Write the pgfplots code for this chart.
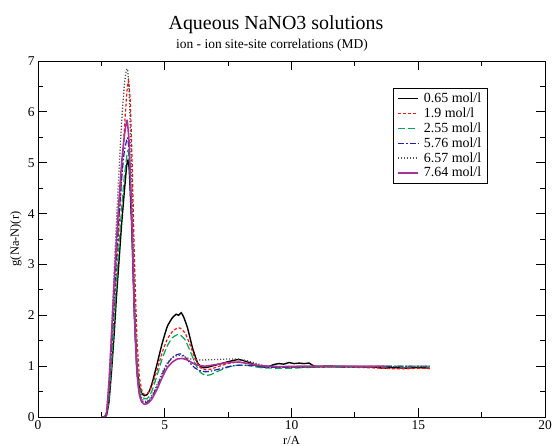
\documentclass[border=0pt]{standalone}
\usepackage{fontspec}
\setmainfont{Liberation Serif}
\usepackage{pgfplots}
\pgfplotsset{compat=1.18}
\definecolor{cred}{RGB}{240,20,20}
\definecolor{cgreen}{RGB}{0,165,85}
\definecolor{cblue}{RGB}{30,30,170}
\definecolor{cgray}{RGB}{80,80,80}
\definecolor{cmag}{RGB}{170,50,150}
\begin{document}
\begin{tikzpicture}
\begin{axis}[name=ax,
  scale only axis, width=507bp, height=356bp,
  xmin=0, xmax=20, ymin=0, ymax=7,
  xtick={0,5,...,20}, ytick={0,1,...,7},
  minor x tick num=1, minor y tick num=1,
  xtick pos=both, ytick pos=both,
  tick align=inside, major tick length=9bp, minor tick length=5bp,
  tick style={black, line width=0.8bp},
  axis line style={black, line width=0.8bp},
  ticklabel style={font=\fontsize{13.5}{15}\selectfont},
  /pgf/number format/assume math mode=true,
  xlabel={r/A}, ylabel={g(Na-N)(r)},
  label style={font=\fontsize{12.5}{14}\selectfont},
  xlabel style={at={(axis description cs:0.5,0)}, anchor=north, inner sep=0pt, yshift=-19bp},
  ylabel style={at={(axis description cs:-0.0434,0.5)}, anchor=center, inner sep=0pt},
  legend style={at={(rel axis cs:0.700,0.924)}, anchor=north west, draw=black,
    line width=0.8bp, font=\fontsize{14}{16}\selectfont, inner xsep=4bp, inner ysep=2.5bp,
    column sep=3bp, row sep=-0.3bp},
  legend cell align=left,
  legend image code/.code={\draw[#1] (0bp,0bp) -- (20bp,0bp);},
  every axis plot/.append style={smooth, tension=0.3},
]
\addplot[black, line width=1.4bp] coordinates {
(2.5,0)(2.6,0)(2.7,0.03)(2.8,0.3)(2.9,0.9)(3.0,1.6)(3.1,2.4)(3.2,3.1)(3.3,3.8)(3.4,4.4)(3.5,4.95)(3.55,5.05)(3.6,4.85)(3.7,3.7)(3.8,2.1)(3.9,1.0)(4.0,0.6)(4.1,0.46)(4.2,0.42)(4.3,0.44)(4.4,0.52)(4.5,0.66)(4.7,1.05)(4.9,1.45)(5.1,1.78)(5.3,1.95)(5.45,2.02)(5.55,2.0)(5.65,2.05)(5.75,1.96)(5.9,1.75)(6.1,1.35)(6.3,1.06)(6.5,0.97)(6.7,0.98)(7.0,1.02)(7.3,1.06)(7.6,1.1)(7.9,1.13)(8.1,1.11)(8.4,1.06)(8.7,1.0)(9.0,0.98)(9.3,1.03)(9.5,1.05)(9.7,1.04)(9.9,1.07)(10.1,1.05)(10.3,1.06)(10.5,1.05)(10.7,1.06)(10.9,1.0)(11.5,1.0)(12.5,0.99)(13.3,0.98)(13.6,0.96)(14.0,0.97)(14.5,0.96)(15.0,0.97)(15.45,0.96)
};
\addplot[cred, line width=1.2bp, dash pattern=on 3bp off 2bp] coordinates {
(2.5,0)(2.6,0)(2.7,0.04)(2.8,0.4)(2.9,1.1)(3.0,2.0)(3.1,2.9)(3.2,3.8)(3.3,4.7)(3.4,5.6)(3.5,6.35)(3.57,6.62)(3.64,6.2)(3.72,4.9)(3.8,3.2)(3.9,1.6)(4.0,0.8)(4.1,0.52)(4.2,0.44)(4.3,0.45)(4.4,0.52)(4.5,0.62)(4.7,0.93)(4.9,1.27)(5.1,1.53)(5.3,1.68)(5.5,1.75)(5.6,1.75)(5.8,1.65)(6.0,1.42)(6.2,1.14)(6.4,0.97)(6.6,0.93)(6.8,0.94)(7.1,0.99)(7.5,1.05)(7.9,1.08)(8.3,1.05)(8.8,1.0)(9.3,0.98)(10.0,0.98)(11.0,0.98)(12.0,0.98)(13.0,0.97)(14.0,0.95)(14.6,0.95)(15.0,0.96)(15.45,0.95)
};
\addplot[cgreen, line width=1.2bp, dash pattern=on 7bp off 3bp] coordinates {
(2.5,0)(2.6,0)(2.7,0.03)(2.8,0.38)(2.9,1.05)(3.0,1.85)(3.1,2.65)(3.2,3.4)(3.3,4.1)(3.4,4.7)(3.5,5.12)(3.55,5.24)(3.6,5.05)(3.7,3.9)(3.8,2.3)(3.9,1.1)(4.0,0.6)(4.1,0.42)(4.2,0.36)(4.3,0.36)(4.4,0.42)(4.5,0.52)(4.7,0.82)(4.9,1.15)(5.1,1.4)(5.3,1.56)(5.5,1.62)(5.6,1.62)(5.8,1.52)(6.0,1.3)(6.2,1.05)(6.4,0.88)(6.6,0.82)(6.8,0.83)(7.1,0.9)(7.5,0.98)(7.9,1.02)(8.3,1.01)(8.8,0.97)(9.3,0.96)(10.0,0.96)(11.0,0.98)(12.0,0.98)(13.0,0.99)(14.0,1.0)(15.0,1.0)(15.45,1.0)
};
\addplot[cblue, line width=1.2bp, dash pattern=on 6bp off 2bp on 1.5bp off 2bp] coordinates {
(2.5,0)(2.6,0)(2.7,0.05)(2.8,0.55)(2.9,1.4)(3.0,2.3)(3.1,3.2)(3.2,4.0)(3.3,4.7)(3.4,5.2)(3.5,5.45)(3.54,5.49)(3.6,5.15)(3.7,3.8)(3.8,2.0)(3.9,0.9)(4.0,0.46)(4.1,0.32)(4.2,0.28)(4.3,0.29)(4.4,0.33)(4.5,0.4)(4.7,0.6)(4.9,0.84)(5.1,1.04)(5.3,1.17)(5.5,1.23)(5.65,1.24)(5.8,1.18)(6.0,1.06)(6.2,0.96)(6.4,0.91)(6.6,0.89)(6.8,0.9)(7.2,0.95)(7.6,1.0)(8.0,1.02)(8.5,1.01)(9.0,0.98)(10.0,0.98)(11.0,0.99)(12.0,0.99)(13.0,0.99)(14.0,1.0)(15.0,1.0)(15.45,1.0)
};
\addplot[cgray, line width=1.3bp, dash pattern=on 1.2bp off 1.8bp] coordinates {
(2.5,0)(2.6,0)(2.7,0.08)(2.8,0.7)(2.9,1.7)(3.0,2.8)(3.1,3.9)(3.2,4.9)(3.3,5.8)(3.4,6.5)(3.48,6.8)(3.53,6.84)(3.6,6.35)(3.7,4.7)(3.8,2.6)(3.9,1.15)(4.0,0.55)(4.1,0.36)(4.2,0.31)(4.3,0.31)(4.4,0.36)(4.5,0.43)(4.7,0.64)(4.9,0.87)(5.1,1.06)(5.3,1.17)(5.5,1.21)(5.7,1.2)(5.9,1.16)(6.1,1.13)(6.4,1.12)(7.0,1.13)(7.5,1.14)(7.9,1.14)(8.3,1.1)(8.7,1.04)(9.0,1.0)(10.0,0.99)(11.0,0.99)(12.0,0.99)(13.0,0.99)(14.0,0.99)(15.0,0.99)(15.45,0.99)
};
\addplot[cmag, line width=1.6bp] coordinates {
(2.5,0)(2.6,0)(2.7,0.08)(2.8,0.68)(2.9,1.6)(3.0,2.6)(3.1,3.5)(3.2,4.3)(3.3,5.0)(3.4,5.5)(3.48,5.78)(3.52,5.83)(3.6,5.35)(3.7,3.9)(3.8,2.05)(3.9,0.9)(4.0,0.43)(4.1,0.29)(4.2,0.25)(4.3,0.26)(4.4,0.3)(4.5,0.36)(4.7,0.55)(4.9,0.78)(5.1,0.97)(5.3,1.08)(5.5,1.14)(5.7,1.15)(5.9,1.12)(6.1,1.06)(6.3,1.02)(6.6,1.0)(7.0,1.03)(7.5,1.07)(7.9,1.08)(8.3,1.05)(8.8,1.01)(9.5,0.99)(10.5,1.0)(11.5,1.0)(12.5,1.0)(13.7,1.0)
};
\legend{0.65 mol/l,1.9 mol/l,2.55 mol/l,5.76 mol/l,6.57 mol/l,7.64 mol/l}
\end{axis}
\path (ax.south west) ++(238bp,387bp) node[anchor=base, inner sep=0pt, font=\fontsize{20}{24}\selectfont] {Aqueous NaNO3 solutions};
\path (ax.south west) ++(234bp,368bp) node[anchor=base, inner sep=0pt, font=\fontsize{13.5}{16}\selectfont] {ion - ion site-site correlations (MD)};
\pgfresetboundingbox
\path (ax.south west) ++(-38bp,-29bp) rectangle ++(552bp,446bp);
\end{tikzpicture}
\end{document}
